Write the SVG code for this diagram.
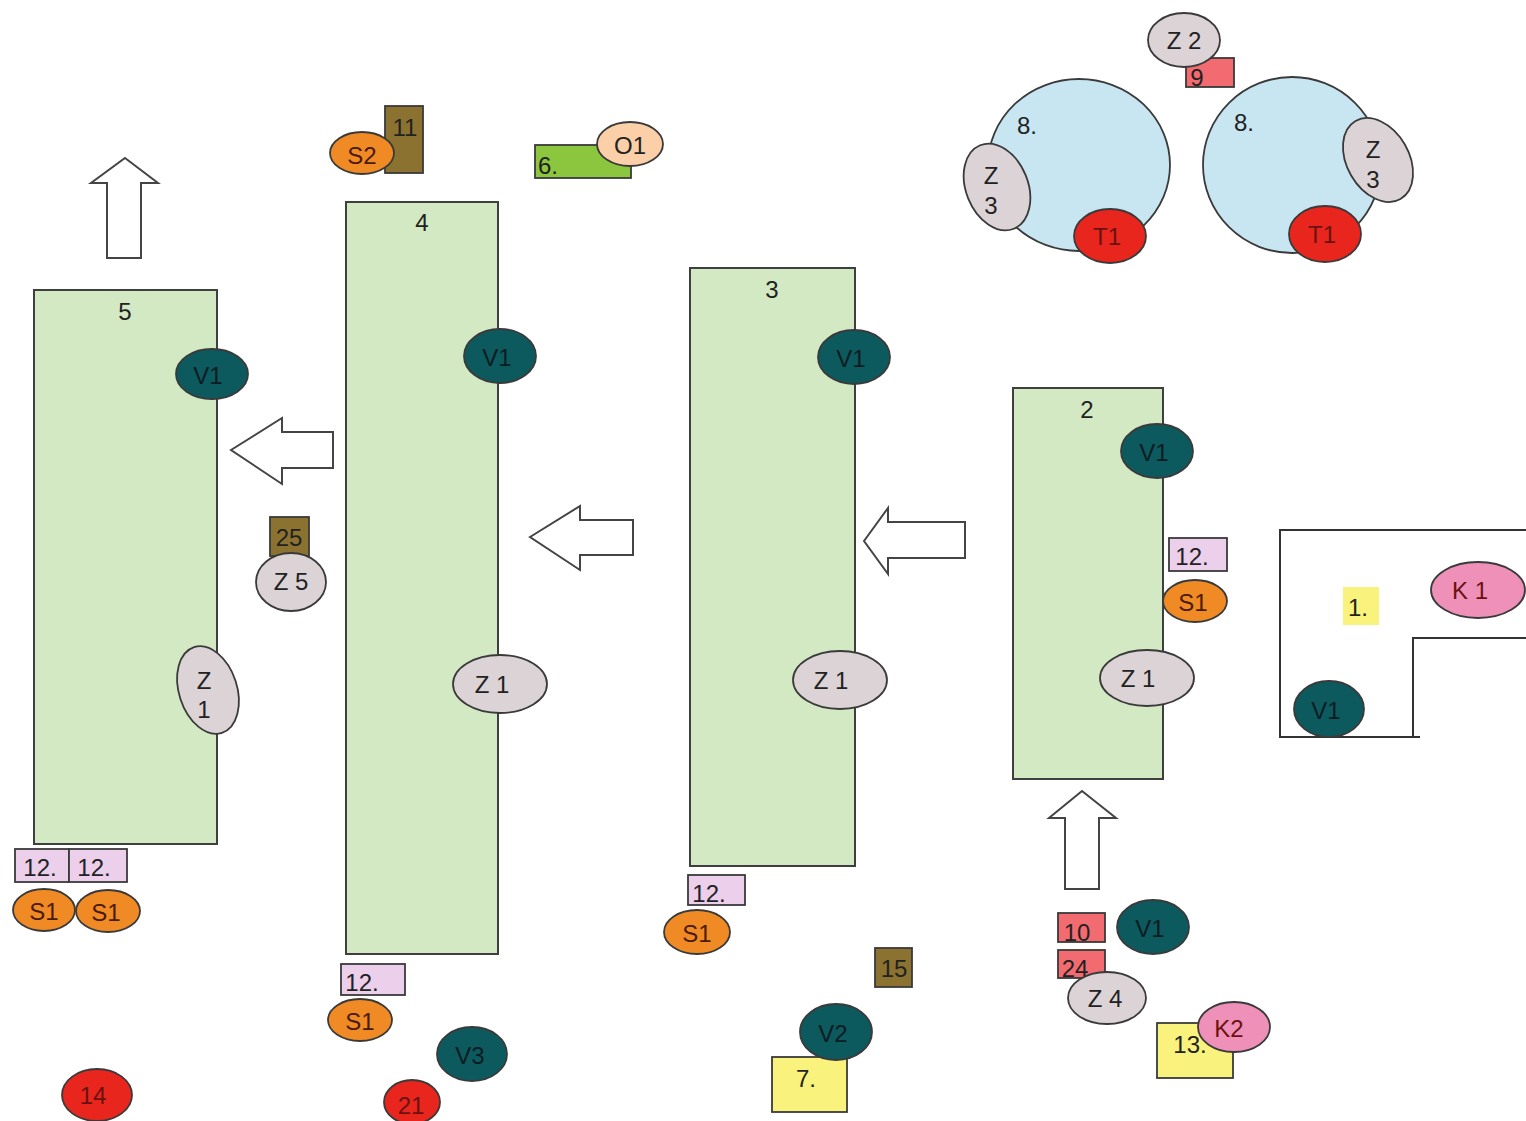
<svg xmlns="http://www.w3.org/2000/svg" width="1526" height="1121" viewBox="0 0 1526 1121">
<style>
text{font-family:"Liberation Sans",Arial,sans-serif;font-size:24px;fill:#222;text-anchor:middle;dominant-baseline:central}
.sl{stroke:#3a3a3a;stroke-width:1.8}
.blk{fill:#d3e9c3;stroke:#3f3f3f;stroke-width:2}
.v{fill:#0d5a5e}
.z{fill:#dcd3d7}
.s{fill:#f08a24}
.r{fill:#e8261e}
.p12{fill:#ebcfeb}
.ol{fill:#8b7230}
.sal{fill:#f26b70}
.yel{fill:#f9f27c}
.kp{fill:#ee90b8}
.arr{fill:#fff;stroke:#444;stroke-width:2}
.dk{fill:#0b1c22}
.red{fill:#6a1210}
.sx{fill:#4a1a0a}
</style>
<g id="connectors">
<polygon class="arr" points="125,158 158,183 141,183 141,258 107,258 107,183 91,183"/>
<polygon class="arr" points="231,450 282,418 282,432 333,432 333,468 282,468 282,484"/>
<polygon class="arr" points="530,537 580,506 580,520 633,520 633,555 580,555 580,570"/>
<polygon class="arr" points="864,541 888,508 888,522 965,522 965,558 888,558 888,574"/>
<polygon class="arr" points="1082,791 1116,818 1099,818 1099,889 1065,889 1065,818 1049,818"/>
</g>
<g id="room1">
<path d="M1526,530 H1280 V737 H1420 M1413,737 V638 H1526" fill="none" stroke="#333" stroke-width="2"/>
<rect x="1343" y="587" width="36" height="38" class="yel"/>
<text x="1358" y="607">1.</text>
</g>
<g id="K1"><ellipse cx="1478" cy="590" rx="47" ry="28" class="kp sl"/><text x="1470" y="590" class="red">K 1</text></g>
<g id="V1-room"><ellipse cx="1329" cy="709" rx="35" ry="28" class="v sl"/><text x="1326" y="710" class="dk">V1</text></g>

<g id="block5">
<rect x="34" y="290" width="183" height="554" class="blk"/>
<text x="125" y="311">5</text>
</g>
<g id="block4">
<rect x="346" y="202" width="152" height="752" class="blk"/>
<text x="422" y="222">4</text>
</g>
<g id="block3">
<rect x="690" y="268" width="165" height="598" class="blk"/>
<text x="772" y="289">3</text>
</g>
<g id="block2">
<rect x="1013" y="388" width="150" height="391" class="blk"/>
<text x="1087" y="409">2</text>
</g>

<g id="V1-5"><ellipse cx="212" cy="374" rx="36" ry="25" class="v sl"/><text x="208" y="375" class="dk">V1</text></g>
<g id="V1-4"><ellipse cx="500" cy="356" rx="36" ry="27" class="v sl"/><text x="497" y="357" class="dk">V1</text></g>
<g id="V1-3"><ellipse cx="854" cy="357" rx="36" ry="27" class="v sl"/><text x="851" y="358" class="dk">V1</text></g>
<g id="V1-2"><ellipse cx="1157" cy="451" rx="36" ry="27" class="v sl"/><text x="1154" y="452" class="dk">V1</text></g>

<g id="Z1-5"><ellipse cx="208" cy="690" rx="29" ry="45" transform="rotate(-18 208 690)" class="z sl"/><text x="204" y="680">Z</text><text x="204" y="709">1</text></g>
<g id="Z1-4"><ellipse cx="500" cy="684" rx="47" ry="29" class="z sl"/><text x="492" y="684">Z 1</text></g>
<g id="Z1-3"><ellipse cx="840" cy="680" rx="47" ry="29" class="z sl"/><text x="831" y="680">Z 1</text></g>
<g id="Z1-2"><ellipse cx="1147" cy="678" rx="47" ry="28" class="z sl"/><text x="1138" y="678">Z 1</text></g>

<g id="n25"><rect x="270" y="517" width="39" height="39" class="ol sl"/><text x="289" y="537">25</text></g>
<g id="Z5"><ellipse cx="291" cy="582" rx="35" ry="29" class="z sl"/><text x="291" y="581">Z 5</text></g>

<g id="n11"><rect x="385" y="106" width="38" height="67" class="ol sl"/><text x="405" y="127">11</text></g>
<g id="S2"><ellipse cx="362" cy="153" rx="32" ry="21" class="s sl"/><text x="362" y="155" class="sx">S2</text></g>
<g id="n6"><rect x="535" y="145" width="96" height="33" fill="#8cc63f" class="sl"/><text x="548" y="165">6.</text></g>
<g id="O1"><ellipse cx="630" cy="144" rx="33" ry="22" fill="#fbd0a8" class="sl"/><text x="630" y="145">O1</text></g>

<g id="n9"><rect x="1186" y="58" width="48" height="29" class="sal sl"/><text x="1197" y="77">9</text></g>
<g id="Z2"><ellipse cx="1184" cy="40" rx="36" ry="27" class="z sl"/><text x="1184" y="40">Z 2</text></g>

<g id="cell8a">
<ellipse cx="1079" cy="165" rx="91" ry="86" fill="#c8e6f2" class="sl"/>
<text x="1027" y="125">8.</text>
</g>
<g id="Z3a"><ellipse cx="997" cy="187" rx="31" ry="45" transform="rotate(-22 997 187)" class="z sl"/><text x="991" y="175">Z</text><text x="991" y="205">3</text></g>
<g id="T1a"><ellipse cx="1110" cy="236" rx="36" ry="27" class="r sl"/><text x="1107" y="236" class="red">T1</text></g>

<g id="cell8b">
<ellipse cx="1292" cy="165" rx="89" ry="88" fill="#c8e6f2" class="sl"/>
<text x="1244" y="122">8.</text>
</g>
<g id="Z3b"><ellipse cx="1378" cy="160" rx="31" ry="45" transform="rotate(-30 1378 160)" class="z sl"/><text x="1373" y="149">Z</text><text x="1373" y="179">3</text></g>
<g id="T1b"><ellipse cx="1325" cy="234" rx="36" ry="28" class="r sl"/><text x="1322" y="234" class="red">T1</text></g>

<g id="n12a"><rect x="15" y="849" width="54" height="33" class="p12 sl"/><text x="40" y="867">12.</text></g>
<g id="n12b"><rect x="69" y="849" width="58" height="33" class="p12 sl"/><text x="94" y="867">12.</text></g>
<g id="S1a"><ellipse cx="44" cy="910" rx="31" ry="21" class="s sl"/><text x="44" y="911" class="sx">S1</text></g>
<g id="S1b"><ellipse cx="108" cy="911" rx="32" ry="21" class="s sl"/><text x="106" y="912" class="sx">S1</text></g>

<g id="n12c"><rect x="341" y="964" width="64" height="31" class="p12 sl"/><text x="362" y="982">12.</text></g>
<g id="S1c"><ellipse cx="360" cy="1020" rx="32" ry="21" class="s sl"/><text x="360" y="1021" class="sx">S1</text></g>

<g id="n12d"><rect x="688" y="875" width="57" height="30" class="p12 sl"/><text x="709" y="893">12.</text></g>
<g id="S1d"><ellipse cx="697" cy="932" rx="33" ry="22" class="s sl"/><text x="697" y="933" class="sx">S1</text></g>

<g id="n12e"><rect x="1169" y="538" width="58" height="33" class="p12 sl"/><text x="1192" y="556">12.</text></g>
<g id="S1e"><ellipse cx="1195" cy="601" rx="32" ry="21" class="s sl"/><text x="1193" y="602" class="sx">S1</text></g>

<g id="n14"><ellipse cx="97" cy="1095" rx="35" ry="26" class="r sl"/><text x="93" y="1095" font-size="20" class="red">14</text></g>
<g id="V3"><ellipse cx="472" cy="1054" rx="35" ry="27" class="v sl"/><text x="470" y="1055" class="dk">V3</text></g>
<g id="n21"><ellipse cx="412" cy="1102" rx="28" ry="22" class="r sl"/><text x="411" y="1105" font-size="20" class="red">21</text></g>

<g id="n15"><rect x="875" y="948" width="37" height="39" class="ol sl"/><text x="894" y="968">15</text></g>
<g id="n7"><rect x="772" y="1057" width="75" height="55" class="yel sl"/><text x="806" y="1078">7.</text></g>
<g id="V2"><ellipse cx="836" cy="1032" rx="36" ry="28" class="v sl"/><text x="833" y="1033" class="dk">V2</text></g>

<g id="n10"><rect x="1058" y="913" width="47" height="29" class="sal sl"/><text x="1077" y="932">10</text></g>
<g id="n24"><rect x="1058" y="950" width="47" height="28" class="sal sl"/><text x="1075" y="968">24</text></g>
<g id="Z4"><ellipse cx="1107" cy="998" rx="39" ry="26" class="z sl"/><text x="1105" y="998">Z 4</text></g>
<g id="V1-b"><ellipse cx="1153" cy="927" rx="36" ry="27" class="v sl"/><text x="1150" y="928" class="dk">V1</text></g>
<g id="n13"><rect x="1157" y="1023" width="76" height="55" class="yel sl"/><text x="1190" y="1044">13.</text></g>
<g id="K2"><ellipse cx="1234" cy="1027" rx="36" ry="25" class="kp sl"/><text x="1229" y="1028" class="red">K2</text></g>
</svg>
